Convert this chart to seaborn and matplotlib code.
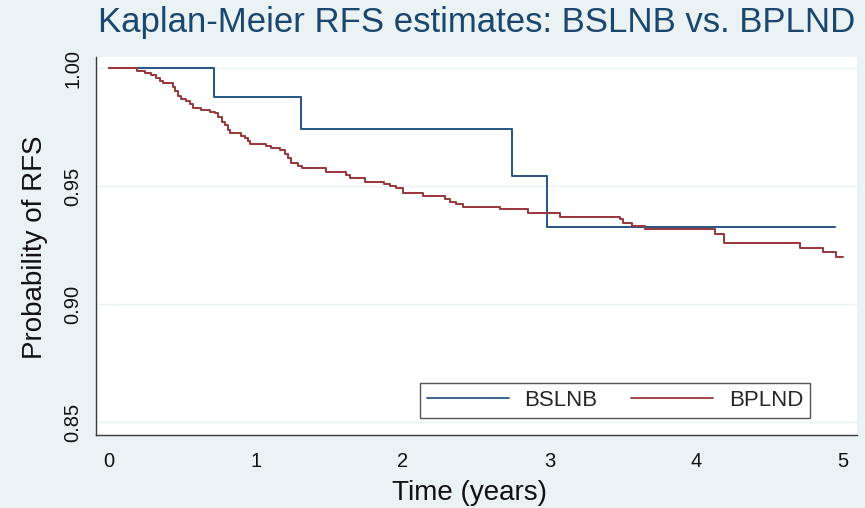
import matplotlib
matplotlib.use("Agg")
import matplotlib.pyplot as plt
import seaborn as sns
import pandas as pd

# ---- data ----
groups = ["BSLNB", "BPLND"]

bslnb_time = [0.0, 0.717, 1.306, 2.745, 2.980, 4.946]
bslnb_surv = [1.0, 0.9878, 0.9743, 0.9544, 0.9325, 0.9325]

bplnd_time = [0.0, 0.187, 0.243, 0.289, 0.323, 0.345, 0.368, 0.436, 0.448, 0.470,
              0.493, 0.527, 0.550, 0.572, 0.629, 0.686, 0.720, 0.743, 0.766, 0.788,
              0.811, 0.822, 0.902, 0.924, 0.947, 0.958, 1.072, 1.106, 1.163, 1.197,
              1.219, 1.242, 1.287, 1.311, 1.481, 1.617, 1.640, 1.742, 1.870, 1.912,
              1.958, 2.003, 2.139, 2.287, 2.321, 2.366, 2.411, 2.661, 2.854, 3.070,
              3.479, 3.502, 3.559, 3.649, 4.126, 4.190, 4.705, 4.864, 4.955, 5.000]
bplnd_surv = [1.0, 0.9989, 0.9980, 0.9970, 0.9960, 0.9946, 0.9935, 0.9918, 0.9904, 0.9883,
              0.9867, 0.9861, 0.9847, 0.9829, 0.9822, 0.9814, 0.9808, 0.9794, 0.9773, 0.9758,
              0.9737, 0.9723, 0.9712, 0.9702, 0.9692, 0.9678, 0.9669, 0.9660, 0.9653, 0.9638,
              0.9617, 0.9597, 0.9585, 0.9575, 0.9561, 0.9547, 0.9533, 0.9518, 0.9508, 0.9500,
              0.9490, 0.9472, 0.9458, 0.9445, 0.9434, 0.9422, 0.9410, 0.9401, 0.9384, 0.9370,
              0.9359, 0.9345, 0.9331, 0.9320, 0.9298, 0.9257, 0.9236, 0.9222, 0.9200, 0.9200]

x_ticks = [0, 1, 2, 3, 4, 5]
y_ticks = [0.85, 0.90, 0.95, 1.00]
y_tick_labels = ["0.85", "0.90", "0.95", "1.00"]

title = "Kaplan-Meier RFS estimates: BSLNB vs. BPLND"
xlabel = "Time (years)"
ylabel = "Probability of RFS"

# ---- build table ----
df = pd.concat([
    pd.DataFrame({"time": bslnb_time, "surv": bslnb_surv, "group": groups[0]}),
    pd.DataFrame({"time": bplnd_time, "surv": bplnd_surv, "group": groups[1]}),
], ignore_index=True)

# ---- style ----
sns.set_style("white")
plt.rcParams["font.family"] = ["Liberation Sans", "DejaVu Sans"]

BG = "#EAF2F3"
NAVY = "#1A476F"
MAROON = "#9A3A3E"

fig = plt.figure(figsize=(8.65, 5.08), dpi=100, facecolor=BG)
ax = fig.add_axes([96 / 865, 1 - 435 / 508, (857 - 96) / 865, (435 - 57) / 508])
ax.set_facecolor("white")

sns.lineplot(data=df, x="time", y="surv", hue="group", hue_order=groups,
             palette={"BSLNB": "#2B5887", "BPLND": MAROON},
             drawstyle="steps-post", estimator=None, sort=True,
             linewidth=1.45, ax=ax)

ax.set_xlim(-0.089, 5.095)
ax.set_ylim(0.8445, 1.0047)

ax.set_xticks(x_ticks)
ax.set_xticklabels([str(v) for v in x_ticks])
ax.set_yticks(y_ticks)
ax.set_yticklabels(y_tick_labels, rotation=90, va="center")

ax.grid(axis="y", color=BG, linewidth=1.0)
ax.grid(axis="x", visible=False)
ax.set_axisbelow(True)

for s in ["top", "right"]:
    ax.spines[s].set_visible(False)
for s in ["left", "bottom"]:
    ax.spines[s].set_color("#3a3a3a")
    ax.spines[s].set_linewidth(1.0)

ax.tick_params(axis="both", which="major", direction="out", length=6, width=1.0,
               color="#3a3a3a", labelsize=14.5, labelcolor="#111111")
ax.tick_params(axis="x", pad=6)
ax.tick_params(axis="y", pad=4)

ax.set_xlabel("")
ax.set_ylabel("")
fig.text(469 / 865, 1 - 493 / 508, xlabel, ha="center", va="center",
         fontsize=20, color="#111111")
fig.text(35 / 865, 1 - 247 / 508, ylabel, ha="center", va="center",
         rotation=90, fontsize=20, color="#111111")
fig.text(476.5 / 865, 1 - 31.7 / 508, title, ha="center", va="baseline",
         fontsize=25, color=NAVY)

handles, labels = ax.get_legend_handles_labels()
leg = ax.legend(handles, labels, ncol=2, loc="center",
                bbox_to_anchor=(615 / 865, 1 - 400.5 / 508),
                bbox_transform=fig.transFigure,
                frameon=True, fancybox=False, framealpha=1,
                edgecolor="#555555", facecolor="white",
                fontsize=16, handlelength=3.7, handletextpad=0.7,
                columnspacing=1.5, borderpad=0.3)
leg.get_frame().set_linewidth(1.0)
for line in leg.get_lines():
    line.set_linewidth(1.3)

fig.savefig("out.png", dpi=100, facecolor=BG)
